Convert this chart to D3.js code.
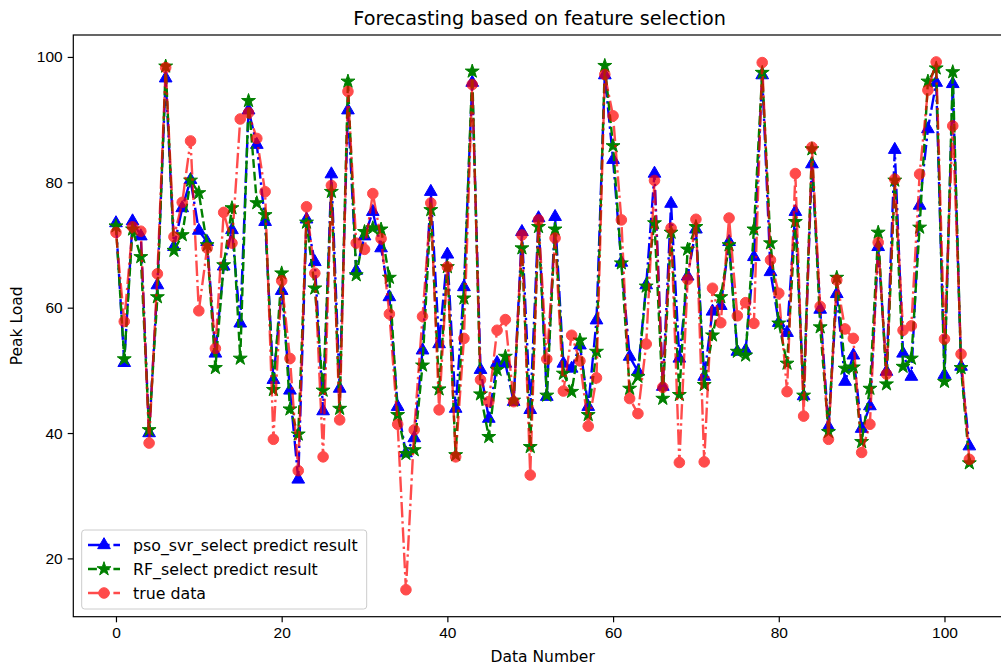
<!DOCTYPE html>
<html>
<head>
<meta charset="utf-8">
<script src="https://cdn.jsdelivr.net/npm/d3@7"></script>
<style>
  body { margin: 0; background: #fff; }
  svg { font-family: "DejaVu Sans", sans-serif; }
</style>
</head>
<body>
<svg id="chart" width="1001" height="666"></svg>
<script>
// values
const trueData = [72.0,57.8,72.9,72.2,38.4,65.4,98.3,71.3,76.8,86.6,59.5,69.5,53.5,75.2,70.3,90.1,91.1,87.0,78.5,39.0,
  64.3,51.9,34.0,76.1,65.5,36.2,79.5,42.1,94.5,70.3,69.3,78.2,71.0,59.0,41.4,15.0,40.5,58.6,76.7,43.7,
  66.5,36.2,55.1,95.6,48.5,45.0,56.4,58.1,45.0,71.6,33.3,74.0,51.8,71.1,46.7,55.6,51.5,41.1,48.8,97.2,
  90.6,74.0,45.5,43.1,54.2,80.3,47.3,72.7,35.3,64.5,74.1,35.4,63.1,57.6,74.3,58.7,60.8,57.5,99.1,67.6,
  62.3,46.6,81.4,42.7,85.6,60.2,39.0,64.4,56.6,55.1,36.9,41.4,70.4,49.4,80.5,56.4,57.1,81.3,94.7,99.2,
  55.0,89.0,52.6,35.8];

const psoSvr = [73.5,51.2,73.8,71.4,40.0,63.6,96.6,69.7,75.9,80.4,72.3,70.5,52.7,66.6,72.4,57.5,91.5,86.0,73.7,48.5,
  62.7,46.8,32.6,74.1,67.3,43.5,81.3,47.1,91.5,65.9,71.4,75.3,69.5,61.7,44.2,36.8,39.2,53.2,78.5,54.2,
  68.5,43.9,63.3,95.9,50.1,42.3,51.2,51.1,45.0,72.1,43.7,74.3,45.8,74.5,51.1,50.3,54.0,44.2,58.0,97.1,
  83.6,67.2,52.2,49.8,63.6,81.4,47.4,76.6,51.9,65.0,72.5,49.0,59.4,60.3,70.5,53.0,53.2,68.1,97.1,65.7,
  57.6,56.0,75.3,45.9,82.9,59.7,41.0,62.2,48.2,52.4,40.7,44.3,69.7,49.8,85.2,52.7,49.0,76.3,88.5,95.9,
  49.3,95.7,50.6,37.9];

const rfSelect = [73.0,51.8,72.5,68.1,40.5,61.7,98.5,69.1,71.6,80.3,78.3,70.0,50.4,66.8,75.9,51.9,93.0,76.7,74.8,46.9,
  65.5,43.8,39.8,73.6,63.1,46.8,78.5,43.9,96.1,65.2,72.1,72.7,72.5,64.8,42.9,36.7,37.3,50.8,75.6,47.0,
  66.5,36.5,61.5,97.7,46.2,39.4,50.1,52.2,45.2,69.5,37.8,72.9,46.0,72.5,49.5,46.6,54.8,42.9,53.0,98.6,
  85.8,67.1,47.1,49.0,63.4,73.5,45.5,72.0,46.1,69.3,72.9,47.7,55.6,61.7,70.0,53.0,52.4,72.5,97.5,70.3,
  57.5,51.1,73.7,46.0,85.3,56.9,40.2,64.8,50.3,50.5,38.6,47.1,72.0,47.8,80.3,50.6,51.9,72.8,96.1,98.2,
  48.2,97.6,50.4,35.2];

const xTicks = [0, 20, 40, 60, 80, 100];
const yTicks = [20, 40, 60, 80, 100];

const svg = d3.select("#chart");
const margin = { left: 73.3, top: 35, right: 1012, bottom: 616.7 };

const x = d3.scaleLinear().domain([-5.15, 108.15]).range([margin.left, margin.right]);
const y = d3.scaleLinear().domain([10.7, 103.5]).range([margin.bottom, margin.top]);

// axes
svg.append("g")
  .attr("transform", `translate(0,${margin.bottom})`)
  .call(d3.axisBottom(x).tickValues(xTicks).tickSize(5.6).tickPadding(5).tickFormat(d3.format("d")))
  .call(g => g.select(".domain").remove())
  .call(g => g.selectAll("text").attr("font-size", "15.5px").attr("fill", "#000"))
  .call(g => g.selectAll("line").attr("stroke", "#000").attr("stroke-width", 1.2));

svg.append("g")
  .attr("transform", `translate(${margin.left},0)`)
  .call(d3.axisLeft(y).tickValues(yTicks).tickSize(5.6).tickPadding(5).tickFormat(d3.format("d")))
  .call(g => g.select(".domain").remove())
  .call(g => g.selectAll("text").attr("font-size", "15.5px").attr("fill", "#000"))
  .call(g => g.selectAll("line").attr("stroke", "#000").attr("stroke-width", 1.2));

// frame
svg.append("rect")
  .attr("x", margin.left).attr("y", margin.top)
  .attr("width", margin.right - margin.left)
  .attr("height", margin.bottom - margin.top)
  .attr("fill", "none").attr("stroke", "#000").attr("stroke-width", 1.2);

const series = [
  { name: "pso_svr_select predict result", values: psoSvr, color: "#0000ff", dash: "15.4,3.8,2.4,3.8", symbol: d3.symbolTriangle, size: 70, alpha: 1 },
  { name: "RF_select predict result", values: rfSelect, color: "#008000", dash: "8.9,3.8", symbol: d3.symbolStar, size: 60, alpha: 1 },
  { name: "true data", values: trueData, color: "#ff0000", dash: "15.4,3.8,2.4,3.8", symbol: d3.symbolCircle, size: 88, alpha: 0.7 },
];

const line = d3.line().x((d, i) => x(i)).y(d => y(d));

series.forEach(s => {
  const g = svg.append("g").attr("opacity", s.alpha);
  g.append("path")
    .datum(s.values)
    .attr("d", line)
    .attr("fill", "none")
    .attr("stroke", s.color)
    .attr("stroke-width", 2.4)
    .attr("stroke-dasharray", s.dash);
  g.selectAll("path.mark")
    .data(s.values)
    .enter()
    .append("path")
    .attr("class", "mark")
    .attr("d", d3.symbol().type(s.symbol).size(s.size))
    .attr("transform", (d, i) => `translate(${x(i)},${y(d)})`)
    .attr("fill", s.color)
    .attr("stroke", s.color)
    .attr("stroke-width", 1);
});

// legend
const legend = svg.append("g");
legend.append("rect")
  .attr("x", 81.7).attr("y", 530)
  .attr("width", 285).attr("height", 79)
  .attr("rx", 3)
  .attr("fill", "#fff").attr("fill-opacity", 0.8)
  .attr("stroke", "#ccc").attr("stroke-width", 1);

series.forEach((s, i) => {
  const cy = 545 + i * 24;
  const g = legend.append("g").attr("opacity", s.alpha);
  g.append("line")
    .attr("x1", 88).attr("x2", 120)
    .attr("y1", cy).attr("y2", cy)
    .attr("stroke", s.color).attr("stroke-width", 2.4)
    .attr("stroke-dasharray", s.dash);
  g.append("path")
    .attr("d", d3.symbol().type(s.symbol).size(s.size))
    .attr("transform", `translate(104,${cy})`)
    .attr("fill", s.color).attr("stroke", s.color);
  legend.append("text")
    .attr("x", 133).attr("y", cy)
    .attr("dy", "0.35em")
    .attr("font-size", "15.8px")
    .text(s.name);
});

// title and labels
svg.append("text")
  .attr("x", (margin.left + margin.right) / 2 - 3).attr("y", 25)
  .attr("text-anchor", "middle")
  .attr("font-size", "19.2px")
  .text("Forecasting based on feature selection");

svg.append("text")
  .attr("x", (margin.left + margin.right) / 2).attr("y", 662)
  .attr("text-anchor", "middle")
  .attr("font-size", "15.5px")
  .text("Data Number");

svg.append("text")
  .attr("transform", `translate(22,${(margin.top + margin.bottom) / 2}) rotate(-90)`)
  .attr("text-anchor", "middle")
  .attr("font-size", "15.5px")
  .text("Peak Load");
</script>
</body>
</html>
